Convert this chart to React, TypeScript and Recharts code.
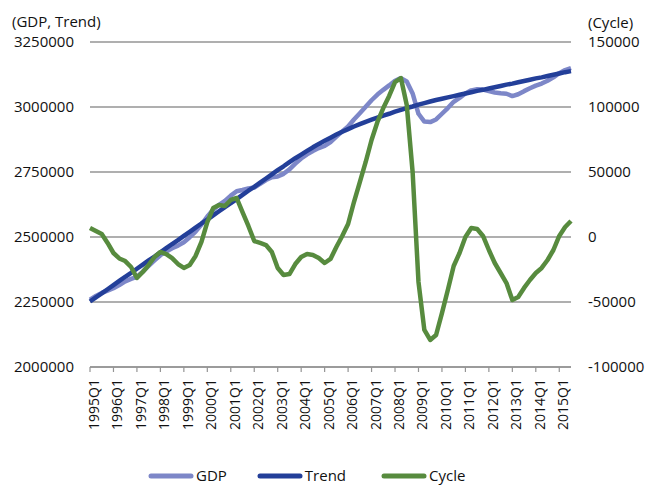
import React from "react";
import { LineChart, Line, XAxis, YAxis, CartesianGrid, Legend } from "recharts";

const quarters = [
  "1995Q1","1995Q2","1995Q3","1995Q4","1996Q1","1996Q2","1996Q3","1996Q4",
  "1997Q1","1997Q2","1997Q3","1997Q4","1998Q1","1998Q2","1998Q3","1998Q4",
  "1999Q1","1999Q2","1999Q3","1999Q4","2000Q1","2000Q2","2000Q3","2000Q4",
  "2001Q1","2001Q2","2001Q3","2001Q4","2002Q1","2002Q2","2002Q3","2002Q4",
  "2003Q1","2003Q2","2003Q3","2003Q4","2004Q1","2004Q2","2004Q3","2004Q4",
  "2005Q1","2005Q2","2005Q3","2005Q4","2006Q1","2006Q2","2006Q3","2006Q4",
  "2007Q1","2007Q2","2007Q3","2007Q4","2008Q1","2008Q2","2008Q3","2008Q4",
  "2009Q1","2009Q2","2009Q3","2009Q4","2010Q1","2010Q2","2010Q3","2010Q4",
  "2011Q1","2011Q2","2011Q3","2011Q4","2012Q1","2012Q2","2012Q3","2012Q4",
  "2013Q1","2013Q2","2013Q3","2013Q4","2014Q1","2014Q2","2014Q3","2014Q4",
  "2015Q1","2015Q2","2015Q3",
];

const gdp = [
  2259000, 2273000, 2285000, 2294000, 2303000, 2315000, 2329000, 2339000, 2347000, 2367000,
  2389000, 2410000, 2430000, 2444000, 2457000, 2467000, 2480000, 2499000, 2521000, 2548000,
  2579000, 2605000, 2624000, 2639000, 2659000, 2676000, 2681000, 2687000, 2690000, 2704000,
  2719000, 2730000, 2733000, 2743000, 2760000, 2782000, 2802000, 2818000, 2831000, 2842000,
  2850000, 2865000, 2886000, 2906000, 2925000, 2952000, 2976000, 3001000, 3026000, 3048000,
  3066000, 3083000, 3101000, 3111000, 3098000, 3052000, 2974000, 2944000, 2942000, 2952000,
  2974000, 2996000, 3020000, 3035000, 3052000, 3064000, 3068000, 3067000, 3061000, 3056000,
  3053000, 3051000, 3042000, 3049000, 3061000, 3072000, 3082000, 3090000, 3101000, 3114000,
  3130000, 3142000, 3150000,
];

const trend = [
  2252000, 2268000, 2283000, 2299000, 2315000, 2331000, 2347000, 2362000, 2378000, 2394000,
  2410000, 2425000, 2441000, 2457000, 2473000, 2488000, 2504000, 2520000, 2536000, 2552000,
  2567000, 2583000, 2599000, 2615000, 2630000, 2646000, 2662000, 2678000, 2693000, 2709000,
  2725000, 2741000, 2757000, 2772000, 2788000, 2803000, 2817000, 2831000, 2845000, 2858000,
  2870000, 2882000, 2894000, 2905000, 2915000, 2925000, 2934000, 2943000, 2951000, 2959000,
  2967000, 2974000, 2982000, 2989000, 2996000, 3002000, 3009000, 3015000, 3021000, 3027000,
  3032000, 3037000, 3042000, 3047000, 3052000, 3057000, 3062000, 3066000, 3071000, 3076000,
  3081000, 3086000, 3090000, 3095000, 3100000, 3105000, 3110000, 3114000, 3119000, 3124000,
  3129000, 3134000, 3138000,
];

const cycle = [
  7000, 4600, 2300, -4600, -12300, -16500, -18500, -23100, -31500, -26900,
  -21500, -15400, -11500, -13100, -16200, -20800, -23800, -21500, -14600, -3800,
  11500, 22300, 24600, 23800, 28500, 30000, 19200, 8500, -3100, -4600,
  -6200, -11500, -23800, -29200, -28500, -20800, -15400, -13100, -13800, -16200,
  -20000, -16900, -7700, 800, 10000, 26900, 42300, 57700, 74600, 88500,
  99200, 108500, 119200, 122300, 101500, 50000, -34600, -71500, -79200, -75400,
  -58500, -40800, -22300, -12300, 0, 6900, 6200, 800, -10000, -20000,
  -27700, -35400, -48500, -46200, -39200, -33100, -27700, -23800, -17700, -10000,
  800, 7700, 12300,
];

const leftTicks = [2000000, 2250000, 2500000, 2750000, 3000000, 3250000];
const rightTicks = [-100000, -50000, 0, 50000, 100000, 150000];

const seriesNames = ["GDP", "Trend", "Cycle"];
const leftTitle = "(GDP, Trend)";
const rightTitle = "(Cycle)";

const C_GDP = "#7D87C8";
const C_TREND = "#233F99";
const C_CYCLE = "#578B3E";
const seriesColors = [C_GDP, C_TREND, C_CYCLE];
const GRID = "#949494";
const FONT = "'Open Sans', sans-serif";

const data = quarters.map((q, i) => ({
  q,
  gdp: gdp[i],
  trend: trend[i],
  cycle: cycle[i],
}));

const XTick = (props: any) => {
  const { x, y, payload } = props;
  const tx = x + 3.5;
  return (
    <text
      x={tx}
      y={y}
      transform={`rotate(-90, ${tx}, ${y})`}
      textAnchor="end"
      dominantBaseline="central"
      fontSize={14}
      fontFamily={FONT}
      fill="#111"
    >
      {payload.value}
    </text>
  );
};

const renderLegend = () => {
  return (
    <div
      style={{
        display: "flex",
        alignItems: "center",
        height: 21,
        paddingLeft: 148,
        fontFamily: FONT,
        fontSize: 15,
        color: "#111",
      }}
    >
      {seriesNames.map((name, i) => (
        <div
          key={name}
          style={{ display: "flex", alignItems: "center", marginRight: i === 0 ? 30 : 35, height: 21 }}
        >
          <svg width={46} height={8} style={{ display: "block" }}>
            <line x1={3} y1={4} x2={43} y2={4} stroke={seriesColors[i]} strokeWidth={5} strokeLinecap="round" />
          </svg>
          <span style={{ marginLeft: 2, lineHeight: "21px" }}>{name}</span>
        </div>
      ))}
    </div>
  );
};

export default function App() {
  return (
    <div style={{ position: "absolute", left: 0, top: 0 }}>
      <LineChart
        width={646}
        height={486}
        data={data}
        margin={{ top: 42, right: 0, bottom: 0, left: 0 }}
        style={{ fontFamily: FONT }}
      >
        <CartesianGrid yAxisId="left" vertical={false} stroke={GRID} strokeWidth={1.4} />
        <XAxis
          dataKey="q"
          interval={3}
          height={98}
          tick={<XTick />}
          tickSize={5}
          tickMargin={7}
          axisLine={{ stroke: GRID, strokeWidth: 1.4 }}
          tickLine={{ stroke: GRID, strokeWidth: 1.2 }}
          padding={{ left: 0, right: 0 }}
        />
        <YAxis
          yAxisId="left"
          width={90}
          domain={[2000000, 3250000]}
          ticks={leftTicks}
          tickSize={0}
          tickMargin={16}
          tickLine={false}
          axisLine={false}
          tick={{ fontSize: 15, fill: "#111", fontFamily: FONT }}
          label={() => (
            <text x={12} y={21} dominantBaseline="central" fontSize={15} fontFamily={FONT} fill="#111">
              {leftTitle}
            </text>
          )}
        />
        <YAxis
          yAxisId="right"
          orientation="right"
          width={75}
          domain={[-100000, 150000]}
          ticks={rightTicks}
          tickSize={0}
          tickMargin={17}
          tickLine={false}
          axisLine={false}
          tick={{ fontSize: 15, fill: "#111", fontFamily: FONT, textAnchor: "start" }}
          label={() => (
            <text x={588} y={22} dominantBaseline="central" fontSize={15} fontFamily={FONT} fill="#111">
              {rightTitle}
            </text>
          )}
        />
        <Line
          yAxisId="left"
          dataKey="gdp"
          name={seriesNames[0]}
          stroke={C_GDP}
          strokeWidth={4.5}
          dot={false}
          activeDot={false}
          type="linear"
          strokeLinejoin="round"
          isAnimationActive={false}
        />
        <Line
          yAxisId="left"
          dataKey="trend"
          name={seriesNames[1]}
          stroke={C_TREND}
          strokeWidth={4.5}
          dot={false}
          activeDot={false}
          type="linear"
          strokeLinejoin="round"
          isAnimationActive={false}
        />
        <Line
          yAxisId="right"
          dataKey="cycle"
          name={seriesNames[2]}
          stroke={C_CYCLE}
          strokeWidth={4.5}
          dot={false}
          activeDot={false}
          type="linear"
          strokeLinejoin="round"
          isAnimationActive={false}
        />
        <Legend
          verticalAlign="bottom"
          content={renderLegend}
          wrapperStyle={{ left: 0, top: 465, width: 646, height: 21 }}
        />
      </LineChart>
    </div>
  );
}
